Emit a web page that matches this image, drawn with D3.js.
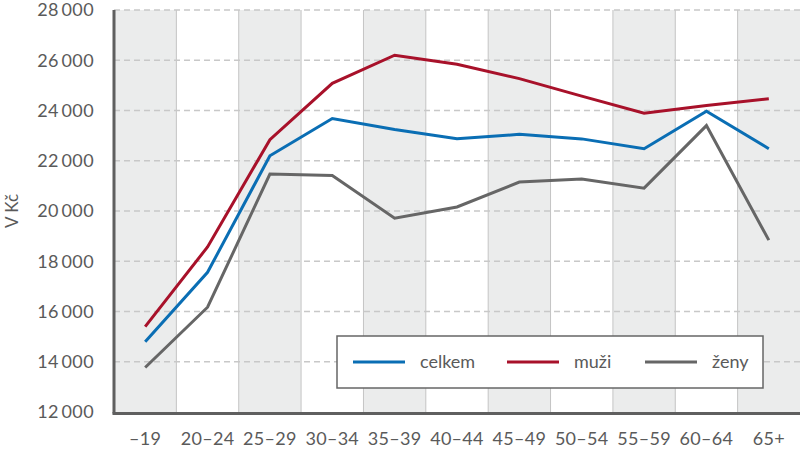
<!DOCTYPE html>
<html>

<head>
  <meta charset="utf-8">
  <script src="https://d3js.org/d3.v7.min.js"></script>
  <style>
    body { margin: 0; background: #fff; }
    text { font-family: Lato, "Open Sans", sans-serif; fill: #5a5a5a; }
  </style>
</head>

<body>
  <div id="chart"></div>
  <script>
    var categories = ["\u201319", "20\u201324", "25\u201329", "30\u201334", "35\u201339", "40\u201344",
      "45\u201349", "50\u201354", "55\u201359", "60\u201364", "65+"];
    var celkem = [14800, 17560, 22200, 23680, 23240, 22880, 23050, 22870, 22480, 23970, 22480];
    var muzi = [15400, 18570, 22840, 25080, 26200, 25840, 25270, 24570, 23890, 24200, 24470];
    var zeny = [13770, 16170, 21470, 21410, 19710, 20160, 21150, 21270, 20910, 23400, 18840];
    var yTicks = [12000, 14000, 16000, 18000, 20000, 22000, 24000, 26000, 28000];

    var series = [
      { name: "celkem", values: celkem, color: "#0a6eb4" },
      { name: "muži", values: muzi, color: "#a8112a" },
      { name: "ženy", values: zeny, color: "#666666" }
    ];

    var W = 800, H = 449;
    var margin = { top: 10, right: 0, bottom: 37, left: 114 };
    var width = W - margin.left - margin.right,
      height = H - margin.top - margin.bottom;

    var svg = d3.select("#chart")
      .append("svg")
      .attr("width", W)
      .attr("height", H)
      .append("g")
      .attr("transform", "translate(" + margin.left + "," + margin.top + ")");

    var x = d3.scaleBand()
      .domain(categories)
      .range([0, width]);

    var y = d3.scaleLinear()
      .domain([12000, 28000])
      .range([height, 0]);

    // shaded columns
    svg.selectAll("rect.band")
      .data(categories.filter(function (d, i) { return i % 2 === 0; }))
      .enter()
      .append("rect")
      .attr("class", "band")
      .attr("x", function (d) { return x(d); })
      .attr("y", 0)
      .attr("width", x.bandwidth())
      .attr("height", height)
      .attr("fill", "#ebecec");

    // vertical separators
    svg.selectAll("line.vgrid")
      .data(categories.slice(1))
      .enter()
      .append("line")
      .attr("x1", function (d) { return x(d); })
      .attr("x2", function (d) { return x(d); })
      .attr("y1", 0)
      .attr("y2", height)
      .attr("stroke", "#c4c4c4")
      .attr("stroke-width", 1);

    // horizontal dashed grid
    svg.selectAll("line.hgrid")
      .data(yTicks.slice(1))
      .enter()
      .append("line")
      .attr("x1", 0)
      .attr("x2", width)
      .attr("y1", function (d) { return y(d); })
      .attr("y2", function (d) { return y(d); })
      .attr("stroke", "#c8c8c8")
      .attr("stroke-width", 1.3)
      .attr("stroke-dasharray", "6,4");

    // y axis labels
    var fmt = function (d) { return d3.format(",")(d).replace(",", "\u2009"); };
    svg.append("g")
      .selectAll("text")
      .data(yTicks)
      .enter()
      .append("text")
      .attr("x", -20)
      .attr("y", function (d) { return y(d); })
      .attr("dy", "0.35em")
      .attr("text-anchor", "end")
      .style("font-size", "18px")
      .style("letter-spacing", "0.4px")
      .text(fmt);

    // x axis labels
    svg.append("g")
      .selectAll("text")
      .data(categories)
      .enter()
      .append("text")
      .attr("x", function (d) { return x(d) + x.bandwidth() / 2; })
      .attr("y", height + 33)
      .attr("text-anchor", "middle")
      .style("font-size", "18px")
      .style("letter-spacing", "0.3px")
      .text(function (d) { return d; });

    // axis lines
    svg.append("line")
      .attr("x1", 0).attr("x2", 0)
      .attr("y1", 0).attr("y2", height + 1.5)
      .attr("stroke", "#5f5f5f").attr("stroke-width", 3);
    svg.append("line")
      .attr("x1", -1.5).attr("x2", width)
      .attr("y1", height + 1.5).attr("y2", height + 1.5)
      .attr("stroke", "#5f5f5f").attr("stroke-width", 3);

    // y title
    svg.append("text")
      .attr("transform", "translate(" + (-margin.left + 18) + "," + y(20000) + ") rotate(-90)")
      .attr("text-anchor", "middle")
      .style("font-size", "17px")
      .text("V Kč");

    // lines
    var line = d3.line()
      .x(function (d, i) { return x(categories[i]) + x.bandwidth() / 2; })
      .y(function (d) { return y(d); });

    svg.selectAll("path.series")
      .data(series)
      .enter()
      .append("path")
      .attr("class", "series")
      .attr("d", function (d) { return line(d.values); })
      .attr("fill", "none")
      .attr("stroke", function (d) { return d.color; })
      .attr("stroke-width", 3);

    // legend
    var lg = svg.append("g")
      .attr("transform", "translate(" + (337 - margin.left) + "," + (336 - margin.top) + ")");
    lg.append("rect")
      .attr("width", 426)
      .attr("height", 52)
      .attr("fill", "#fff")
      .attr("stroke", "#666")
      .attr("stroke-width", 1.5);
    var lx = [16, 170, 308];
    var item = lg.selectAll("g.item")
      .data(series)
      .enter()
      .append("g")
      .attr("transform", function (d, i) { return "translate(" + lx[i] + ",26)"; });
    item.append("line")
      .attr("x1", 0).attr("x2", 52)
      .attr("stroke", function (d) { return d.color; })
      .attr("stroke-width", 3);
    item.append("text")
      .attr("x", 67)
      .attr("dy", "0.35em")
      .style("font-size", "18px")
      .text(function (d) { return d.name; });
  </script>
</body>

</html>
